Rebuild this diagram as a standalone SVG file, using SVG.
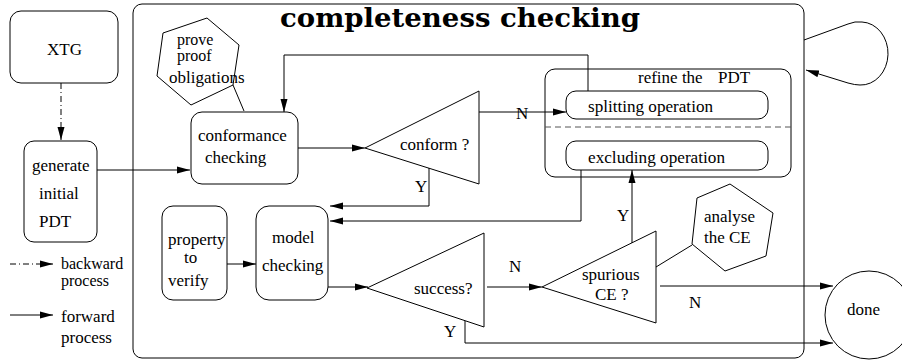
<svg xmlns="http://www.w3.org/2000/svg" width="902" height="363" viewBox="0 0 902 363">
<defs>
<style>
.b{fill:#fff;stroke:#000;stroke-width:1}
.n{fill:none;stroke:#000;stroke-width:1}
.t{font-family:"Liberation Serif","Times New Roman",serif;font-size:17px;fill:#000}
.s{font-size:16px}
.c{stroke:#000;stroke-width:1;fill:none}
</style>
<marker id="ah" markerUnits="userSpaceOnUse" markerWidth="14" markerHeight="8" refX="13" refY="4" orient="auto">
<path d="M0,0.5 L13,4 L0,7.5 Z" fill="#000"/>
</marker>
</defs>
<rect width="902" height="363" fill="#fff"/>

<g id="completeness-box">
<rect class="n" x="133" y="4" width="671" height="354" rx="9"/>
<text x="280" y="27" font-family="DejaVu Serif, serif" font-weight="bold" font-size="26" textLength="360" lengthAdjust="spacingAndGlyphs">completeness checking</text>
</g>

<g id="xtg">
<rect class="b" x="10" y="11" width="108" height="72" rx="11"/>
<text class="t" x="47" y="55">XTG</text>
</g>

<g id="generate">
<rect class="b" x="24" y="141" width="73" height="101" rx="10"/>
<text class="t" x="32" y="171">generate</text>
<text class="t" x="39" y="199">initial</text>
<text class="t" x="39" y="227">PDT</text>
</g>

<g id="prove">
<polygon class="b" points="163,33 207,18 239,45 233,85 191,105 157,76"/>
<text class="t s" x="177" y="45">prove</text>
<text class="t s" x="177" y="61">proof</text>
<text class="t" x="169" y="83">obligations</text>
</g>

<g id="conformance">
<rect class="b" x="191" y="112" width="107" height="72" rx="11"/>
<text class="t" x="198" y="141">conformance</text>
<text class="t" x="205" y="163">checking</text>
</g>

<g id="conform">
<polygon class="b" points="365,148 479,91 479,184"/>
<text class="t" x="400" y="150">conform ?</text>
</g>

<g id="refine">
<rect class="n" x="545" y="69" width="246" height="108" rx="10"/>
<text class="t" x="638" y="83">refine the</text>
<text class="t" x="718" y="83">PDT</text>
<line x1="545" y1="127" x2="791" y2="127" stroke="#555" stroke-width="1" stroke-dasharray="6,4"/>
</g>

<g id="splitting">
<rect class="b" x="566" y="91" width="202" height="28" rx="10"/>
<text class="t" x="588" y="112" textLength="125" lengthAdjust="spacingAndGlyphs">splitting operation</text>
</g>

<g id="excluding">
<rect class="b" x="566" y="141" width="202" height="29" rx="10"/>
<text class="t" x="588" y="163" textLength="137" lengthAdjust="spacingAndGlyphs">excluding operation</text>
</g>

<g id="property">
<rect class="b" x="162" y="206" width="65" height="94" rx="11"/>
<text class="t" x="168" y="245">property</text>
<text class="t" x="184" y="263">to</text>
<text class="t" x="168" y="286">verify</text>
</g>

<g id="model">
<rect class="b" x="256" y="206" width="72" height="94" rx="13"/>
<text class="t" x="272" y="243">model</text>
<text class="t" x="262" y="271">checking</text>
</g>

<g id="success">
<polygon class="b" points="367,288 484,233 484,327"/>
<text class="t" x="414" y="294">success?</text>
</g>

<g id="spurious">
<polygon class="b" points="542,287 656,231 656,323"/>
<text class="t" x="582" y="280">spurious</text>
<text class="t" x="595" y="300">CE ?</text>
</g>

<g id="analyse">
<polygon class="b" points="697,198 730,184 773,213 766,256 725,271 692,244"/>
<text class="t" x="704" y="222">analyse</text>
<text class="t" x="704" y="243">the CE</text>
</g>

<g id="done">
<circle class="b" cx="869" cy="315" r="44"/>
<text class="t" x="847" y="315">done</text>
</g>

<g id="legend">
<line x1="10" y1="264" x2="53" y2="264" class="c" stroke-dasharray="6,3,1,3" marker-end="url(#ah)"/>
<text class="t s" x="61" y="269">backward</text>
<text class="t s" x="61" y="286">process</text>
<line x1="10" y1="315" x2="53" y2="315" class="c" marker-end="url(#ah)"/>
<text class="t" x="61" y="322">forward</text>
<text class="t" x="61" y="343">process</text>
</g>

<g id="connectors">
<line x1="61" y1="83" x2="61" y2="140" class="c" stroke-dasharray="6,3,1,3" marker-end="url(#ah)"/>
<line x1="97" y1="170" x2="190" y2="170" class="c" marker-end="url(#ah)"/>
<line x1="233" y1="85" x2="244" y2="111" class="c"/>
<path d="M588,91 V55 H284 V112" class="c" marker-end="url(#ah)"/>
<line x1="298" y1="148" x2="365" y2="148" class="c" marker-end="url(#ah)"/>
<line x1="479" y1="112" x2="566" y2="112" class="c" marker-end="url(#ah)"/>
<text class="t" x="516" y="119">N</text>
<path d="M429,168 V206 H330" class="c" marker-end="url(#ah)"/>
<text class="t" x="415" y="192">Y</text>
<path d="M581,170 V221 H330" class="c" marker-end="url(#ah)"/>
<line x1="227" y1="264" x2="256" y2="264" class="c" marker-end="url(#ah)"/>
<line x1="328" y1="287" x2="368" y2="287" class="c" marker-end="url(#ah)"/>
<line x1="487" y1="287" x2="542" y2="287" class="c" marker-end="url(#ah)"/>
<text class="t" x="509" y="272">N</text>
<path d="M465,321 V343 H833" class="c" marker-end="url(#ah)"/>
<text class="t" x="444" y="337">Y</text>
<line x1="632" y1="243" x2="632" y2="170" class="c" marker-end="url(#ah)"/>
<text class="t" x="617" y="221">Y</text>
<line x1="656" y1="267" x2="692" y2="245" class="c"/>
<line x1="660" y1="286" x2="833" y2="286" class="c" marker-end="url(#ah)"/>
<text class="t" x="689" y="308">N</text>
<path d="M804,40 L848,24 Q855,21 862,22 A27 31.5 0 0 1 860,85 Q855,85 848,83 L806,70" class="c" marker-end="url(#ah)"/>
</g>
</svg>
